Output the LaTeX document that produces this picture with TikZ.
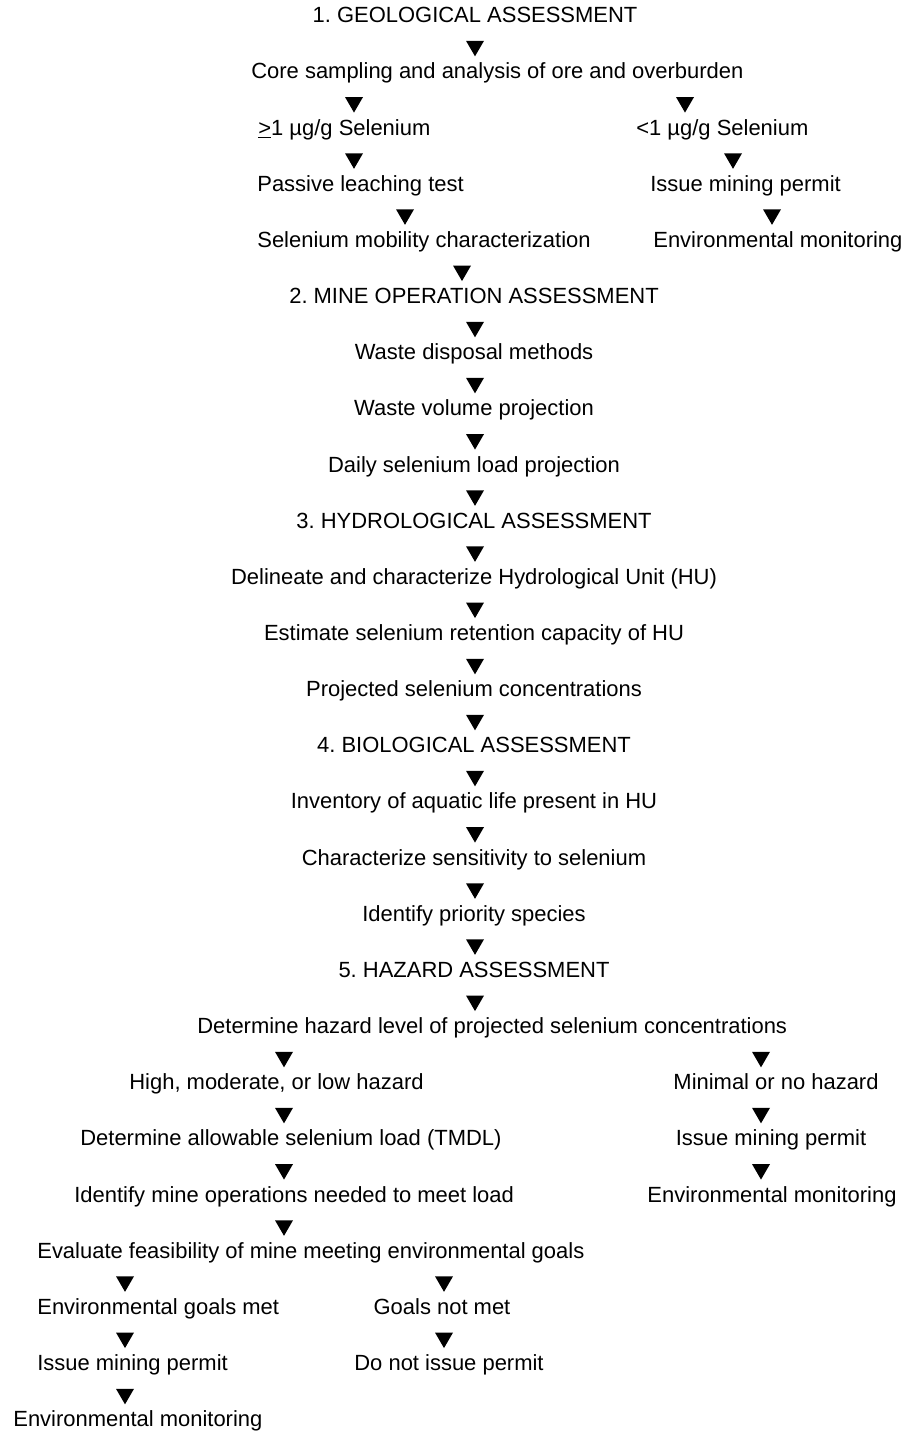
\documentclass[tikz,border=0pt]{standalone}
\usepackage{fontspec}
\setmainfont{Liberation Sans}
\frenchspacing
\usepackage{tikz}
\usetikzlibrary{shapes.geometric}

\begin{document}
\begin{tikzpicture}[
    every node/.style={font=\fontsize{12.5}{15}\selectfont},
    txt/.style={inner sep=0pt, text height=0.72em, text depth=0.2em},
    lft/.style={txt, anchor=west},
    tri/.style={isosceles triangle, isosceles triangle stretches,
                shape border rotate=-90, fill=black, draw=none,
                inner sep=0pt, minimum width=0.36cm, minimum height=0.31cm}]
  \fill[white] (0,0) rectangle (18.42,-28.70);
  \coordinate (k0) at (9.50,0);
  \coordinate (k1) at (7.08,0);
  \coordinate (k2) at (13.70,0);
  \coordinate (k3) at (8.10,0);
  \coordinate (k4) at (14.66,0);
  \coordinate (k5) at (15.44,0);
  \coordinate (k6) at (9.24,0);
  \coordinate (k7) at (5.68,0);
  \coordinate (k8) at (15.22,0);
  \coordinate (k9) at (2.50,0);
  \coordinate (k10) at (8.88,0);
  \node[txt] (geo)   at (9.50, -0.36) {1. GEOLOGICAL ASSESSMENT};
  \node[lft] (core)  at (5.02, -1.48) {Core sampling and analysis of ore and overburden};
  \node[lft] (hi)    at (5.16, -2.61) {\underline{>}1 µg/g Selenium};
  \node[lft] (lo)    at (12.72,-2.61) {<1 µg/g Selenium};
  \node[lft] (leach) at (5.14, -3.73) {Passive leaching test};
  \node[lft] (permA) at (13.00,-3.73) {Issue mining permit};
  \node[lft] (mob)   at (5.14, -4.85) {Selenium mobility characterization};
  \node[lft] (monA)  at (13.06,-4.85) {Environmental monitoring};
  \node[txt] (mine)  at (9.48, -5.98) {2. MINE OPERATION ASSESSMENT};
  \node[txt] (disp)  at (9.48, -7.10) {Waste disposal methods};
  \node[txt] (vol)   at (9.48, -8.22) {Waste volume projection};
  \node[txt] (load)  at (9.48, -9.35) {Daily selenium load projection};
  \node[txt] (hydro) at (9.48,-10.47) {3. HYDROLOGICAL ASSESSMENT};
  \node[txt] (unit)  at (9.48,-11.59) {Delineate and characterize Hydrological Unit (HU)};
  \node[txt] (ret)   at (9.48,-12.72) {Estimate selenium retention capacity of HU};
  \node[txt] (conc)  at (9.48,-13.84) {Projected selenium concentrations};
  \node[txt] (bio)   at (9.48,-14.96) {4. BIOLOGICAL ASSESSMENT};
  \node[txt] (inv)   at (9.48,-16.08) {Inventory of aquatic life present in HU};
  \node[txt] (sens)  at (9.48,-17.21) {Characterize sensitivity to selenium};
  \node[txt] (prio)  at (9.48,-18.33) {Identify priority species};
  \node[txt] (haz)   at (9.48,-19.45) {5. HAZARD ASSESSMENT};
  \node[lft] (lvl)   at (3.94,-20.58) {Determine hazard level of projected selenium concentrations};
  \node[lft] (high)  at (2.58,-21.70) {High, moderate, or low hazard};
  \node[txt] (minl)  at (15.52,-21.70) {Minimal or no hazard};
  \node[lft] (tmdl)  at (1.60,-22.82) {Determine allowable selenium load (TMDL)};
  \node[txt] (permB) at (15.42,-22.82) {Issue mining permit};
  \node[lft] (ops)   at (1.48,-23.95) {Identify mine operations needed to meet load};
  \node[txt] (monB)  at (15.44,-23.95) {Environmental monitoring};
  \node[lft] (feas)  at (0.74,-25.07) {Evaluate feasibility of mine meeting environmental goals};
  \node[lft] (met)   at (0.74,-26.19) {Environmental goals met};
  \node[txt] (notmet) at (8.84,-26.19) {Goals not met};
  \node[lft] (permC) at (0.74,-27.32) {Issue mining permit};
  \node[txt] (noperm) at (8.98,-27.32) {Do not issue permit};
  \node[lft] (monC)  at (0.26,-28.44) {Environmental monitoring};
  \path (geo.south -| k0) -- node[tri] {} (core.north -| k0);
  \path (core.south -| k1) -- node[tri] {} (hi.north -| k1);
  \path (core.south -| k2) -- node[tri] {} (lo.north -| k2);
  \path (hi.south -| k1) -- node[tri] {} (leach.north -| k1);
  \path (lo.south -| k4) -- node[tri] {} (permA.north -| k4);
  \path (leach.south -| k3) -- node[tri] {} (mob.north -| k3);
  \path (permA.south -| k5) -- node[tri] {} (monA.north -| k5);
  \path (mob.south -| k6) -- node[tri] {} (mine.north -| k6);
  \path (mine.south -| k0) -- node[tri] {} (disp.north -| k0);
  \path (disp.south -| k0) -- node[tri] {} (vol.north -| k0);
  \path (vol.south -| k0) -- node[tri] {} (load.north -| k0);
  \path (load.south -| k0) -- node[tri] {} (hydro.north -| k0);
  \path (hydro.south -| k0) -- node[tri] {} (unit.north -| k0);
  \path (unit.south -| k0) -- node[tri] {} (ret.north -| k0);
  \path (ret.south -| k0) -- node[tri] {} (conc.north -| k0);
  \path (conc.south -| k0) -- node[tri] {} (bio.north -| k0);
  \path (bio.south -| k0) -- node[tri] {} (inv.north -| k0);
  \path (inv.south -| k0) -- node[tri] {} (sens.north -| k0);
  \path (sens.south -| k0) -- node[tri] {} (prio.north -| k0);
  \path (prio.south -| k0) -- node[tri] {} (haz.north -| k0);
  \path (haz.south -| k0) -- node[tri] {} (lvl.north -| k0);
  \path (lvl.south -| k7) -- node[tri] {} (high.north -| k7);
  \path (lvl.south -| k8) -- node[tri] {} (minl.north -| k8);
  \path (high.south -| k7) -- node[tri] {} (tmdl.north -| k7);
  \path (minl.south -| k8) -- node[tri] {} (permB.north -| k8);
  \path (tmdl.south -| k7) -- node[tri] {} (ops.north -| k7);
  \path (permB.south -| k8) -- node[tri] {} (monB.north -| k8);
  \path (ops.south -| k7) -- node[tri] {} (feas.north -| k7);
  \path (feas.south -| k9) -- node[tri] {} (met.north -| k9);
  \path (feas.south -| k10) -- node[tri] {} (notmet.north -| k10);
  \path (met.south -| k9) -- node[tri] {} (permC.north -| k9);
  \path (notmet.south -| k10) -- node[tri] {} (noperm.north -| k10);
  \path (permC.south -| k9) -- node[tri] {} (monC.north -| k9);
\end{tikzpicture}
\end{document}
